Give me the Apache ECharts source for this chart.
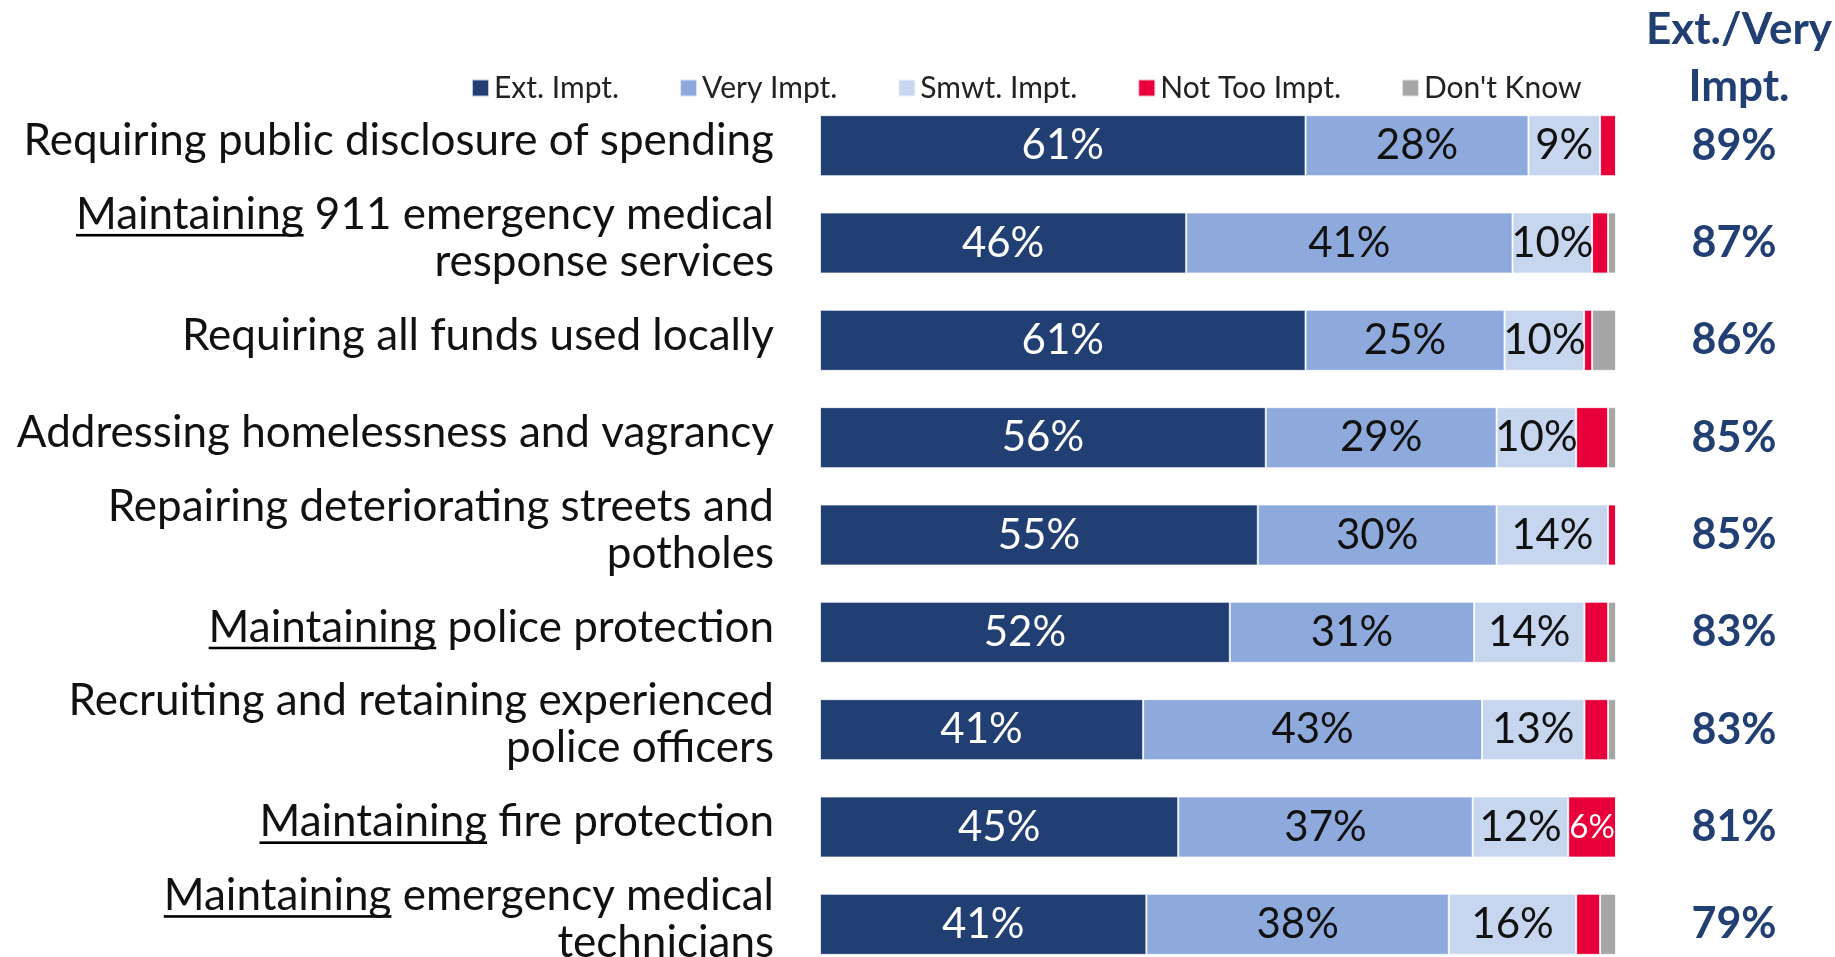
<!DOCTYPE html>
<html>
<head>
<meta charset="utf-8">
<script src="https://cdn.jsdelivr.net/npm/echarts@6/dist/echarts.min.js"></script>
<style>
    html, body { margin: 0; padding: 0; background: #fff; }
    #chart { width: 1835px; height: 957px; }
</style>
</head>
<body>
<div id="chart"></div>
<script>
    // categories, top to bottom
    const categories = [
        'Requiring public disclosure of spending',
        '{u|Maintaining} 911 emergency medical\nresponse services',
        'Requiring all funds used locally',
        'Addressing homelessness and vagrancy',
        'Repairing deteriorating streets and\npotholes',
        '{u|Maintaining} police protection',
        'Recruiting and retaining experienced\npolice officers',
        '{u|Maintaining} fire protection',
        '{u|Maintaining} emergency medical\ntechnicians'
    ];
    const seriesNames = ['Ext. Impt.', 'Very Impt.', 'Smwt. Impt.', 'Not Too Impt.', "Don't Know"];
    const extImpt = [61, 46, 61, 56, 55, 52, 41, 45, 41];
    const veryImpt = [28, 41, 25, 29, 30, 31, 43, 37, 38];
    const smwtImpt = [9, 10, 10, 10, 14, 14, 13, 12, 16];
    const notTooImpt = [2, 2, 1, 4, 1, 3, 3, 6, 3];
    const dontKnow = [0, 1, 3, 1, 0, 1, 1, 0, 2];
    const extVeryTotal = [89, 87, 86, 85, 85, 83, 83, 81, 79];

    const colors = ['#213f73', '#8eaadc', '#c7d6ef', '#e8003a', '#a6a6a6'];
    const labelColors = ['#ffffff', '#111111', '#111111', '#ffffff', '#111111'];
    const labelSizes = [42, 42, 42, 33, 33];
    const FONT = 'Lato';

    const raw = [extImpt, veryImpt, smwtImpt, notTooImpt, dontKnow];
    // 100% stacked: each row normalised to its own total
    const rowTotal = extImpt.map((v, i) => raw.reduce((s, arr) => s + arr[i], 0));

    // thin line at the bottom of the box, used as underline
    function underlineImage() {
        const c = document.createElement('canvas');
        c.width = 4;
        c.height = 50;
        const ctx = c.getContext('2d');
        ctx.fillStyle = '#000';
        ctx.fillRect(0, 47, 4, 3);
        return c;
    }

    const myChart = echarts.init(document.getElementById('chart'));

    const series = raw.map((arr, si) => ({
        name: seriesNames[si],
        type: 'bar',
        stack: 'all',
        barWidth: 61,
        data: arr.map((v, i) => v / rowTotal[i] * 100),
        itemStyle: {
            color: colors[si],
            borderColor: 'rgba(255,255,255,0.7)',
            borderWidth: 1
        },
        label: {
            show: si < 4,
            position: 'inside',
            fontFamily: FONT,
            fontSize: labelSizes[si],
            color: labelColors[si],
            formatter: function (p) {
                const v = arr[p.dataIndex];
                if (si === 3) {
                    return v >= 5 ? v + '%' : '';
                }
                return v + '%';
            }
        },
        emphasis: { disabled: true }
    }));

    const option = {
        animation: false,
        color: colors,
        title: {
            text: 'Ext./Very\nImpt.',
            left: 1734,
            top: -4,
            textAlign: 'center',
            textStyle: {
                fontFamily: FONT,
                fontWeight: 'bold',
                fontSize: 44,
                lineHeight: 57,
                color: '#213f73'
            }
        },
        legend: {
            data: seriesNames,
            left: 466,
            top: 68,
            icon: 'rect',
            itemWidth: 17,
            itemHeight: 17,
            itemGap: 60,
            textStyle: {
                fontFamily: FONT,
                fontSize: 30,
                color: '#222'
            }
        },
        grid: {
            left: 820,
            top: 97,
            width: 796,
            height: 876,
            containLabel: false,
            outerBoundsMode: 'none'
        },
        xAxis: {
            type: 'value',
            min: 0,
            max: 100,
            show: false
        },
        yAxis: [
            {
                type: 'category',
                inverse: true,
                data: categories,
                axisLine: { show: false },
                axisTick: { show: false },
                axisLabel: {
                    margin: 46,
                    fontFamily: FONT,
                    fontSize: 44,
                    lineHeight: 47,
                    color: '#111',
                    padding: [0, 0, 10, 0],
                    rich: {
                        u: {
                            fontFamily: FONT,
                            fontSize: 44,
                            lineHeight: 47,
                            color: '#111',
                            backgroundColor: { image: underlineImage() }
                        }
                    }
                }
            },
            {
                type: 'category',
                inverse: true,
                position: 'right',
                data: extVeryTotal.map(v => v + '%'),
                axisLine: { show: false },
                axisTick: { show: false },
                axisLabel: {
                    margin: 118,
                    align: 'center',
                    fontFamily: FONT,
                    fontWeight: 'bold',
                    fontSize: 43,
                    color: '#213f73'
                }
            }
        ],
        series: series
    };
    myChart.setOption(option);
</script>
</body>
</html>
